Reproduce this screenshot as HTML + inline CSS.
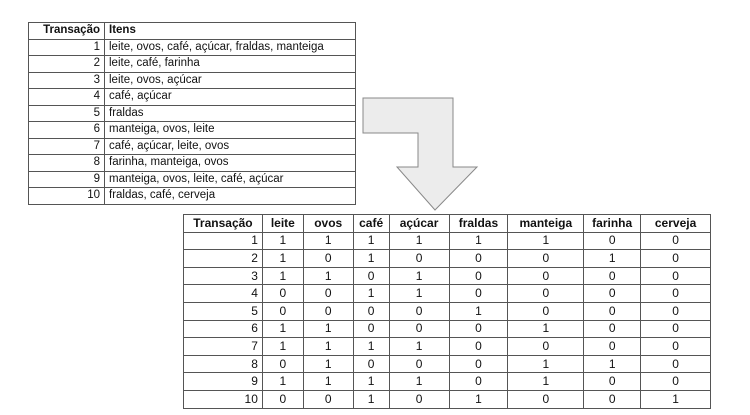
<!DOCTYPE html>
<html><head><meta charset="utf-8"><style>
body{margin:0;width:750px;height:415px;background:#fff;position:relative;font-family:"Liberation Sans",sans-serif;overflow:hidden}
table{position:absolute;border-collapse:collapse;font-size:11.5px;color:#111}
td,th{border:1px solid #555;padding:0 4px;line-height:15px}
th{font-weight:bold}
#t1{left:28px;top:22px;width:328px}
#t1 td:first-child,#t1 th:first-child{text-align:right;width:67px}
#t1 td:last-child,#t1 th:last-child{text-align:left}
#t1 tr{height:16.5px}
#t2{left:183px;top:214px;width:528px;font-size:12px}
#t2 tr{height:17.6px}
#t2 td{text-align:center}
#t2 td:first-child{text-align:right}
</style></head><body>
<table id="t1">
<tr><th>Transação</th><th>Itens</th></tr>
<tr><td>1</td><td>leite, ovos, café, açúcar, fraldas, manteiga</td></tr>
<tr><td>2</td><td>leite, café, farinha</td></tr>
<tr><td>3</td><td>leite, ovos, açúcar</td></tr>
<tr><td>4</td><td>café, açúcar</td></tr>
<tr><td>5</td><td>fraldas</td></tr>
<tr><td>6</td><td>manteiga, ovos, leite</td></tr>
<tr><td>7</td><td>café, açúcar, leite, ovos</td></tr>
<tr><td>8</td><td>farinha, manteiga, ovos</td></tr>
<tr><td>9</td><td>manteiga, ovos, leite, café, açúcar</td></tr>
<tr><td>10</td><td>fraldas, café, cerveja</td></tr>
</table>
<svg style="position:absolute;left:0;top:0" width="750" height="415">
<polygon points="363,98 453,98 453,167 477,167 435,210 397,167 418,167 418,133 363,133" fill="#ececec" stroke="#888" stroke-width="1"/>
</svg>
<table id="t2">
<colgroup><col style="width:79px"><col style="width:41px"><col style="width:50px"><col style="width:36px"><col style="width:60px"><col style="width:59px"><col style="width:76px"><col style="width:57px"><col style="width:70px"></colgroup>
<tr><th>Transação</th><th>leite</th><th>ovos</th><th>café</th><th>açúcar</th><th>fraldas</th><th>manteiga</th><th>farinha</th><th>cerveja</th></tr>
<tr><td>1</td><td>1</td><td>1</td><td>1</td><td>1</td><td>1</td><td>1</td><td>0</td><td>0</td></tr>
<tr><td>2</td><td>1</td><td>0</td><td>1</td><td>0</td><td>0</td><td>0</td><td>1</td><td>0</td></tr>
<tr><td>3</td><td>1</td><td>1</td><td>0</td><td>1</td><td>0</td><td>0</td><td>0</td><td>0</td></tr>
<tr><td>4</td><td>0</td><td>0</td><td>1</td><td>1</td><td>0</td><td>0</td><td>0</td><td>0</td></tr>
<tr><td>5</td><td>0</td><td>0</td><td>0</td><td>0</td><td>1</td><td>0</td><td>0</td><td>0</td></tr>
<tr><td>6</td><td>1</td><td>1</td><td>0</td><td>0</td><td>0</td><td>1</td><td>0</td><td>0</td></tr>
<tr><td>7</td><td>1</td><td>1</td><td>1</td><td>1</td><td>0</td><td>0</td><td>0</td><td>0</td></tr>
<tr><td>8</td><td>0</td><td>1</td><td>0</td><td>0</td><td>0</td><td>1</td><td>1</td><td>0</td></tr>
<tr><td>9</td><td>1</td><td>1</td><td>1</td><td>1</td><td>0</td><td>1</td><td>0</td><td>0</td></tr>
<tr><td>10</td><td>0</td><td>0</td><td>1</td><td>0</td><td>1</td><td>0</td><td>0</td><td>1</td></tr>
</table>
</body></html>
